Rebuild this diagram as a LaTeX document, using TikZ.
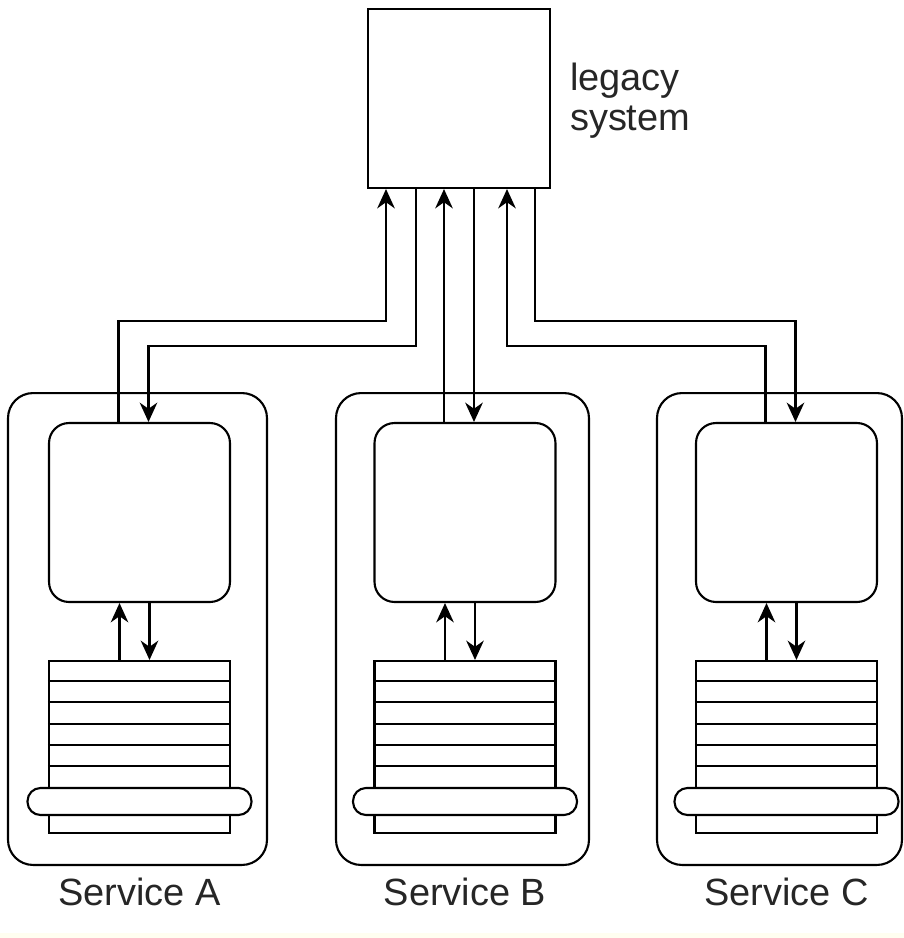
\documentclass[tikz,border=0pt]{standalone}
\usepackage{fontspec}
\setmainfont{Liberation Sans}
\usetikzlibrary{arrows.meta,positioning}

\begin{document}
\begin{tikzpicture}[x=0.02cm, y=-0.02cm, line width=1.2pt,
  svcbox/.style={draw, rounded corners=0.5cm, minimum height=9.44cm},
  appbox/.style={draw, fill=white, rounded corners=0.4cm, minimum width=3.62cm, minimum height=3.58cm},
  dbbox/.style={draw, minimum width=3.62cm, minimum height=3.44cm},
  platebar/.style={draw, fill=white, rounded corners=0.26cm, minimum width=4.48cm, minimum height=0.54cm},
  svclabel/.style={font=\fontsize{21.6}{23}\selectfont, text=black!85, inner sep=0pt},
  flow/.style={-{Stealth[length=11pt,width=10pt,inset=3.5pt]}}]
  \useasboundingbox (0,0) rectangle (904,938);
  \fill[yellow!6] (0,933) rectangle (904,938);
  % legacy system
  \node[draw, minimum width=3.64cm, minimum height=3.58cm] (legacy) at (459,98.5) {};
  \node[svclabel, anchor=north west, align=left] (legacytxt) at (569,62) {legacy\\system};
  % services
  \foreach \n/\ox/\ow/\ix/\name in {A/137.5/5.18/139.5/Service A, B/462.5/5.06/465/Service B, C/779.5/4.9/786.5/Service C} {
    \node[svcbox, minimum width=\ow cm] (svc\n) at (\ox,629) {};
    \node[appbox] (app\n) at (\ix,512.5) {};
    \node[dbbox] (db\n) at (\ix,747) {};
    \foreach \k in {1,...,5}
      \draw (db\n.north west) ++(0,21.2*\k) -- ++(181,0);
    \node[platebar] (plate\n) at (\ix,801.5) {};
    \node[svclabel] (lbl\n) at (\ix,892) {\name};
    \draw[flow] ([xshift=-0.4cm]db\n.north) -- ([xshift=-0.4cm]app\n.south);
    \draw[flow] ([xshift=0.2cm]app\n.south) -- ([xshift=0.2cm]db\n.north);
  }
  % links to the legacy system
  \coordinate (aUpBend) at (386,321);
  \coordinate (aDnBend) at (416,346);
  \draw[flow] ([xshift=-0.42cm]appA.north) |- (aUpBend) -- (aUpBend |- legacy.south);
  \draw[flow] (legacy.south -| aDnBend) -- (aDnBend) -| ([xshift=0.18cm]appA.north);
  \coordinate (bUp) at ([xshift=-0.42cm]appB.north);
  \coordinate (bDn) at ([xshift=0.18cm]appB.north);
  \draw[flow] (bUp) -- (bUp |- legacy.south);
  \draw[flow] (bDn |- legacy.south) -- (bDn);
  \coordinate (cUpBend) at (507,346);
  \coordinate (cDnBend) at (535,321);
  \draw[flow] ([xshift=-0.42cm]appC.north) |- (cUpBend) -- (cUpBend |- legacy.south);
  \draw[flow] (legacy.south -| cDnBend) -- (cDnBend) -| ([xshift=0.18cm]appC.north);
\end{tikzpicture}
\end{document}
